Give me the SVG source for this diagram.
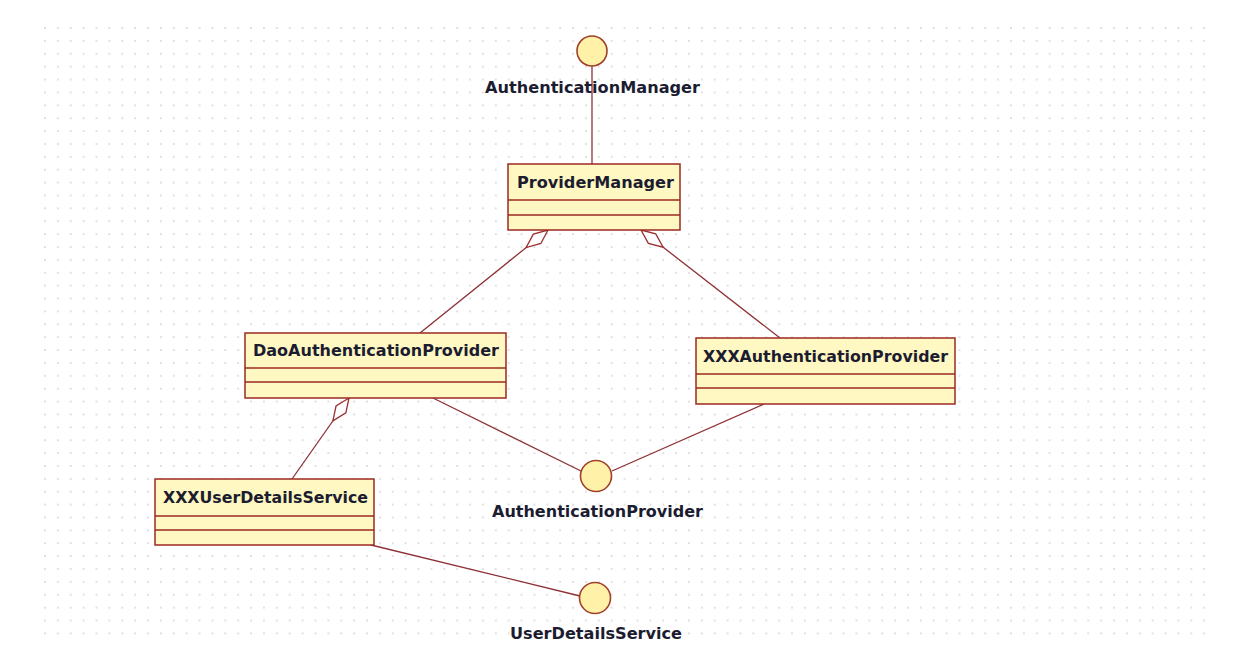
<svg xmlns="http://www.w3.org/2000/svg" width="1255" height="654" viewBox="0 0 1255 654">
<defs>
<pattern id="grid" patternUnits="userSpaceOnUse" x="44" y="27" width="12.88" height="12.88">
<circle cx="1" cy="1" r="0.85" fill="#c4c4c4"/>
</pattern>
<marker id="diamond" markerUnits="userSpaceOnUse" markerWidth="32" markerHeight="16" viewBox="-1 -8 32 16" refX="0" refY="0" orient="auto">
<path d="M0,0 L14,-6 L28,0 L14,6 Z" fill="#ffffff" stroke="#9a3030" stroke-width="1.3"/>
</marker>
<style>
.box{fill:#fff8c2;stroke:#9a2a22;stroke-width:1.5}
.div{stroke:#9a2a22;stroke-width:1.5}
.iface{fill:#fff2a8;stroke:#a0402a;stroke-width:1.6}
.lbl{font-family:"DejaVu Sans",Verdana,sans-serif;font-weight:bold;font-size:15px;fill:#1c1c30}
.conn{stroke:#8e3036;stroke-width:1.3;fill:none}
</style>
</defs>
<rect width="1255" height="654" fill="#ffffff"/>
<rect x="44" y="27" width="1163" height="610" fill="url(#grid)"/>

<g id="connectors">
<line class="conn" x1="592" y1="66" x2="592" y2="164"/>
<line class="conn" x1="548" y1="230" x2="420" y2="333" marker-start="url(#diamond)"/>
<line class="conn" x1="641" y1="230" x2="780" y2="338" marker-start="url(#diamond)"/>
<line class="conn" x1="349" y1="398" x2="292" y2="479" marker-start="url(#diamond)"/>
<line class="conn" x1="433" y1="398" x2="581" y2="471"/>
<line class="conn" x1="764" y1="404" x2="612" y2="471"/>
<line class="conn" x1="371" y1="545" x2="580" y2="596"/>
</g>

<g id="AuthenticationManager">
<circle class="iface" cx="592" cy="51" r="15"/>
<text class="lbl" x="485" y="93" textLength="215" lengthAdjust="spacingAndGlyphs">AuthenticationManager</text>
</g>

<g id="ProviderManager">
<rect class="box" x="508" y="164" width="172" height="66"/>
<line class="div" x1="508" y1="200" x2="680" y2="200"/>
<line class="div" x1="508" y1="215" x2="680" y2="215"/>
<text class="lbl" x="517" y="188" textLength="157" lengthAdjust="spacingAndGlyphs">ProviderManager</text>
</g>

<g id="DaoAuthenticationProvider">
<rect class="box" x="245" y="333" width="261" height="65"/>
<line class="div" x1="245" y1="368" x2="506" y2="368"/>
<line class="div" x1="245" y1="382" x2="506" y2="382"/>
<text class="lbl" x="253" y="356" textLength="246" lengthAdjust="spacingAndGlyphs">DaoAuthenticationProvider</text>
</g>

<g id="XXXAuthenticationProvider">
<rect class="box" x="696" y="338" width="259" height="66"/>
<line class="div" x1="696" y1="374" x2="955" y2="374"/>
<line class="div" x1="696" y1="388" x2="955" y2="388"/>
<text class="lbl" x="703" y="362" textLength="245" lengthAdjust="spacingAndGlyphs">XXXAuthenticationProvider</text>
</g>

<g id="XXXUserDetailsService">
<rect class="box" x="155" y="479" width="219" height="66"/>
<line class="div" x1="155" y1="516" x2="374" y2="516"/>
<line class="div" x1="155" y1="530" x2="374" y2="530"/>
<text class="lbl" x="163" y="503" textLength="205" lengthAdjust="spacingAndGlyphs">XXXUserDetailsService</text>
</g>

<g id="AuthenticationProvider">
<circle class="iface" cx="596" cy="476" r="15.5"/>
<text class="lbl" x="492" y="517" textLength="211" lengthAdjust="spacingAndGlyphs">AuthenticationProvider</text>
</g>

<g id="UserDetailsService">
<circle class="iface" cx="595" cy="598" r="15.5"/>
<text class="lbl" x="510" y="639" textLength="172" lengthAdjust="spacingAndGlyphs">UserDetailsService</text>
</g>
</svg>
